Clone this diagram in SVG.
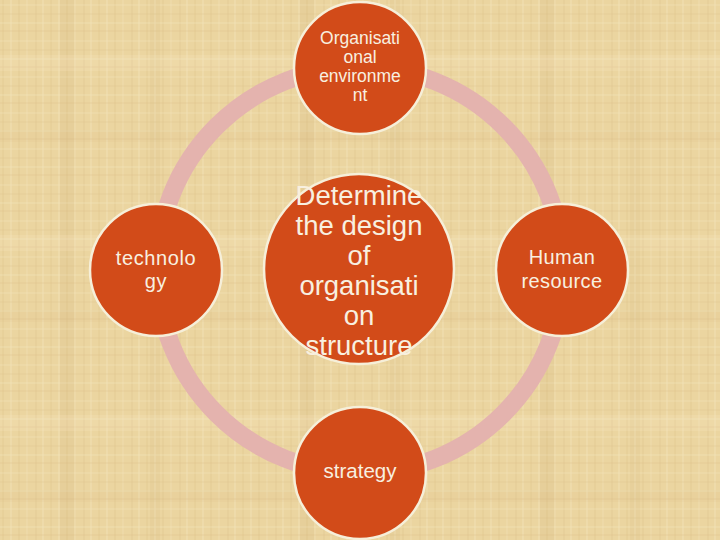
<svg xmlns="http://www.w3.org/2000/svg" width="720" height="540" viewBox="0 0 720 540">
<defs>
<pattern id="weave" x="0" y="0" width="48" height="36" patternUnits="userSpaceOnUse">
<rect width="48" height="36" fill="#ebd5a0"/>
<g stroke-width="1">
<line x1="3" y1="0" x2="3" y2="36" stroke="#dfc38c" stroke-opacity="0.6"/>
<line x1="11" y1="0" x2="11" y2="36" stroke="#f4e4bc" stroke-opacity="0.7"/>
<line x1="19" y1="0" x2="19" y2="36" stroke="#d9bd85" stroke-opacity="0.5"/>
<line x1="27" y1="0" x2="27" y2="36" stroke="#f2e0b5" stroke-opacity="0.6"/>
<line x1="36" y1="0" x2="36" y2="36" stroke="#dcc089" stroke-opacity="0.5"/>
<line x1="43" y1="0" x2="43" y2="36" stroke="#f5e6c2" stroke-opacity="0.6"/>
<line x1="0" y1="5" x2="48" y2="5" stroke="#f3e3bb" stroke-opacity="0.5"/>
<line x1="0" y1="14" x2="48" y2="14" stroke="#dcc18b" stroke-opacity="0.4"/>
<line x1="0" y1="23" x2="48" y2="23" stroke="#f4e5c0" stroke-opacity="0.5"/>
<line x1="0" y1="31" x2="48" y2="31" stroke="#dbbf88" stroke-opacity="0.4"/>
</g>
</pattern>
<pattern id="bands" x="0" y="0" width="240" height="180" patternUnits="userSpaceOnUse">
<rect x="0" y="0" width="240" height="180" fill="none"/>
<rect x="60" y="0" width="14" height="180" fill="#c9a86e" fill-opacity="0.12"/>
<rect x="150" y="0" width="10" height="180" fill="#c9a86e" fill-opacity="0.1"/>
<rect x="0" y="55" width="240" height="16" fill="#f8ebc8" fill-opacity="0.18"/>
<rect x="0" y="130" width="240" height="12" fill="#c9a86e" fill-opacity="0.08"/>
</pattern>
<style>
.node{fill:#d24b19;stroke:#f6efd9;stroke-width:2.5}
.lbl{fill:#f8f0e0;font-family:"Liberation Sans",Arial,sans-serif;text-anchor:middle}
.ring{fill:none;stroke:#e4b3ae;stroke-width:18}
</style>
</defs>
<rect width="720" height="540" fill="url(#weave)"/>
<rect width="720" height="540" fill="url(#bands)"/>
<g id="connectors">
<circle class="ring" cx="360" cy="270" r="203"/>
</g>
<g id="node-environment">
<circle class="node" cx="360" cy="68" r="66"/>
<text class="lbl" font-size="17.5"><tspan x="360" y="44">Organisati</tspan><tspan x="360" y="63">onal</tspan><tspan x="360" y="82">environme</tspan><tspan x="360" y="101">nt</tspan></text>
</g>
<g id="node-technology">
<circle class="node" cx="156" cy="270" r="66"/>
<text class="lbl" font-size="20" letter-spacing="0.6"><tspan x="156" y="265">technolo</tspan><tspan x="156" y="288">gy</tspan></text>
</g>
<g id="node-human">
<circle class="node" cx="562" cy="270" r="66"/>
<text class="lbl" font-size="20" letter-spacing="0.4"><tspan x="562" y="264">Human</tspan><tspan x="562" y="288">resource</tspan></text>
</g>
<g id="node-strategy">
<circle class="node" cx="360" cy="473" r="66"/>
<text class="lbl" font-size="20.5" x="360" y="478">strategy</text>
</g>
<g id="node-center">
<circle class="node" cx="359" cy="269" r="95"/>
<text class="lbl" font-size="27.5"><tspan x="359" y="205">Determine</tspan><tspan x="359" y="235">the design</tspan><tspan x="359" y="265">of</tspan><tspan x="359" y="295">organisati</tspan><tspan x="359" y="325">on</tspan><tspan x="359" y="355">structure</tspan></text>
</g>
</svg>
